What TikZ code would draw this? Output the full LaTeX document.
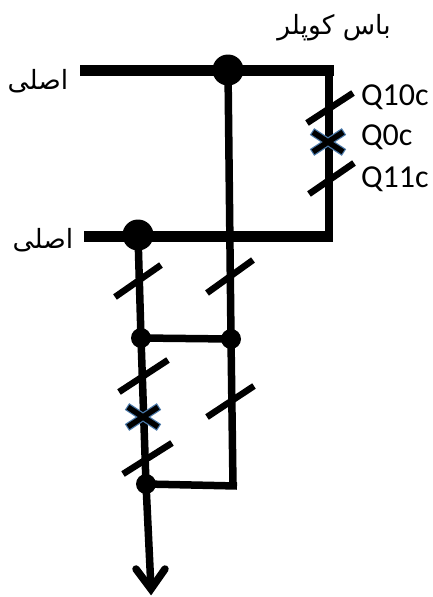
\documentclass[tikz,border=0pt]{standalone}
\usepackage{fontspec}
\setmainfont{Carlito}
\newfontfamily\arabicfont[Script=Arabic]{DejaVu Sans}
\TeXXeTstate=1
\definecolor{crossblue}{HTML}{4A78A8}
\tikzset{
  busbar/.style={line width=11pt,line cap=butt},
  wire/.style={line width=7.5pt,line cap=butt},
  tick/.style={line width=6.5pt,line cap=butt},
  bigdot/.style={circle,fill=black,minimum size=31pt,inner sep=0pt},
  smalldot/.style={circle,fill=black,minimum size=20pt,inner sep=0pt},
  lab/.style={font=\fontsize{32}{32}\selectfont,anchor=base west,inner sep=0pt},
  ar/.style={font=\arabicfont\fontsize{26.5}{27}\selectfont,anchor=base,inner sep=0pt}
}
\newcommand{\crossmark}[2]{%
  \draw[line width=8pt,crossblue] (#1-16,#2-10.5) -- (#1+16,#2+10.5) (#1-16,#2+10.5) -- (#1+16,#2-10.5);
  \draw[line width=5.5pt,black] (#1-15,#2-9.8) -- (#1+15,#2+9.8) (#1-15,#2+9.8) -- (#1+15,#2-9.8);
}
\begin{document}
\begin{tikzpicture}[x=1pt,y=-1pt]
\useasboundingbox (0,0) rectangle (432,597);
\coordinate (t0) at (80,70);
\coordinate (t1) at (334,70);
\coordinate (b0) at (84,236);
\coordinate (b1) at (333,236);
\node[bigdot] (d1) at (228,70) {};
\node[bigdot] (d2) at (138,235) {};
\node[smalldot] (d3) at (141,338) {};
\node[smalldot] (d4) at (231,339) {};
\node[smalldot] (d5) at (146,484) {};
\coordinate (c1) at (237,486);
\coordinate (tip) at (151,589);
\draw[busbar] (t0) -- (t1);
\draw[busbar] (b0) -- (b1);
\draw[wire,line width=8pt] (329,70) -- (329,236);
\draw[wire] (d1.center) -- (d4.center);
\draw[wire] (d2.center) -- (d3.center);
\draw[wire] (d3.center) -- (d5.center);
\draw[wire] (d3.center) -- (d4.center);
\draw[wire] (d4.center) -- (233,486);
\draw[wire] (d5.center) -- (c1);
\draw[wire] (d5.center) -- (tip);
\draw[wire,line cap=round,line join=miter] (136,569) -- (tip) -- (165,569);
\draw[tick] (307,123) -- (353,93);
\draw[tick] (309,194) -- (354,163);
\draw[tick] (115,297) -- (161,265);
\draw[tick] (207,293) -- (253,260);
\draw[tick] (119,392) -- (168,360);
\draw[tick] (123,474) -- (172,443);
\draw[tick] (207,417) -- (254,386);
\crossmark{328}{142}
\crossmark{143}{417}
\node[lab] (q1) at (361,105) {Q10c};
\node[lab] (q2) at (361,145) {Q0c};
\node[lab] (q3) at (361,187) {Q11c};
\node[ar] (a1) at (334,34) {\beginR باس کوپلر\endR};
\node[ar] (a2) at (38,89) {\beginR اصلی\endR};
\node[ar] (a3) at (43,248) {\beginR اصلی\endR};
\end{tikzpicture}
\end{document}
